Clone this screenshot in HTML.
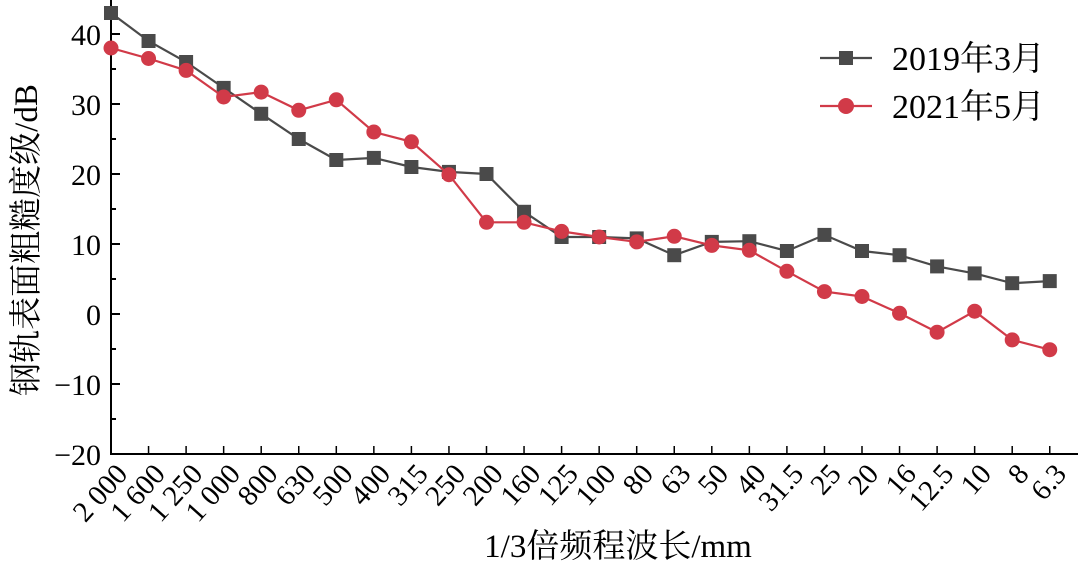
<!DOCTYPE html>
<html><head><meta charset="utf-8"><style>
html,body{margin:0;padding:0;background:#fff;}
svg{display:block;font-family:"Liberation Serif","Noto Serif CJK SC",serif;}
</style></head><body>
<svg id="chart" width="1080" height="568" viewBox="0 0 1080 568">
<g id="axes"></g><g id="series"></g>
<g>
<line x1="820" y1="58" x2="872" y2="58" stroke="#4a4a4a" stroke-width="2.2"/>
<rect x="839" y="51" width="14" height="14" fill="#4a4a4a"/>
<text x="892" y="70" font-size="34">2019年3月</text>
<line x1="820" y1="106" x2="872" y2="106" stroke="#d13a48" stroke-width="2.2"/>
<circle cx="846" cy="106" r="8" fill="#d13a48"/>
<text x="892" y="118" font-size="34">2021年5月</text>
</g>
<text transform="translate(37,240) rotate(-90)" text-anchor="middle" font-size="33">钢轨表面粗糙度级/dB</text>
<text x="618" y="557" text-anchor="middle" font-size="33">1/3倍频程波长/mm</text>
</svg>
<script>
const categories=["2 000","1 600","1 250","1 000","800","630","500","400","315","250","200","160","125","100","80","63","50","40","31.5","25","20","16","12.5","10","8","6.3"];
const series2019=[43,39,36,32.3,28.6,25,22,22.3,21,20.3,20,14.6,11,11,10.8,8.4,10.3,10.4,9,11.3,9,8.4,6.8,5.8,4.4,4.7];
const series2021=[38,36.5,34.8,31,31.7,29.1,30.6,26,24.6,19.9,13.1,13.1,11.8,11,10.3,11.1,9.8,9.1,6.1,3.2,2.5,0.1,-2.6,0.4,-3.7,-5.1];
const yTicks=[-20,-10,0,10,20,30,40];
const NS="http://www.w3.org/2000/svg";
const x0=111,dx=37.55;
function xs(i){return x0+i*dx;}
function ys(v){return 314-7*v;}
function mk(tag,attrs,parent,text){const e=document.createElementNS(NS,tag);for(const k in attrs)e.setAttribute(k,attrs[k]);if(text!==undefined)e.textContent=text;parent.appendChild(e);return e;}
const ax=document.getElementById('axes'),sg=document.getElementById('series');
let l=mk('line',{x1:111,y1:0,x2:111,y2:455,stroke:'#000','stroke-width':2},ax);


l=mk('line',{x1:110,y1:454,x2:1078,y2:454,stroke:'#000','stroke-width':2},ax);


for(let v=-20;v<=45;v+=5){const maj=v%10===0;mk('line',{x1:111,y1:ys(v),x2:maj?120:116,y2:ys(v),stroke:'#000','stroke-width':2},ax);}
yTicks.forEach(v=>{const t=mk('text',{x:101,y:ys(v)+11,'text-anchor':'end','font-size':30},ax,v<0?'\u2212'+(-v):String(v));

});
categories.forEach((c,i)=>{const x=xs(i);mk('line',{x1:x,y1:454,x2:x,y2:446,stroke:'#000','stroke-width':1.5},ax);
const t=mk('text',{transform:`translate(${x+18},${475}) rotate(-48)`,'text-anchor':'end','font-size':29},ax,c);

});
function draw(data,color,shape,name){
const pts=data.map((v,i)=>xs(i)+','+ys(v)).join(' ');
const p=mk('polyline',{points:pts,fill:'none',stroke:color,'stroke-width':2.2},sg);


data.forEach((v,i)=>{let m;if(shape==='sq')m=mk('rect',{x:xs(i)-7,y:ys(v)-7,width:14,height:14,fill:color},sg);else m=mk('circle',{cx:xs(i),cy:ys(v),r:7.5,fill:color},sg);

});}
draw(series2019,'#4a4a4a','sq','series-2019');
draw(series2021,'#d13a48','ci','series-2021');
</script>
</body></html>
